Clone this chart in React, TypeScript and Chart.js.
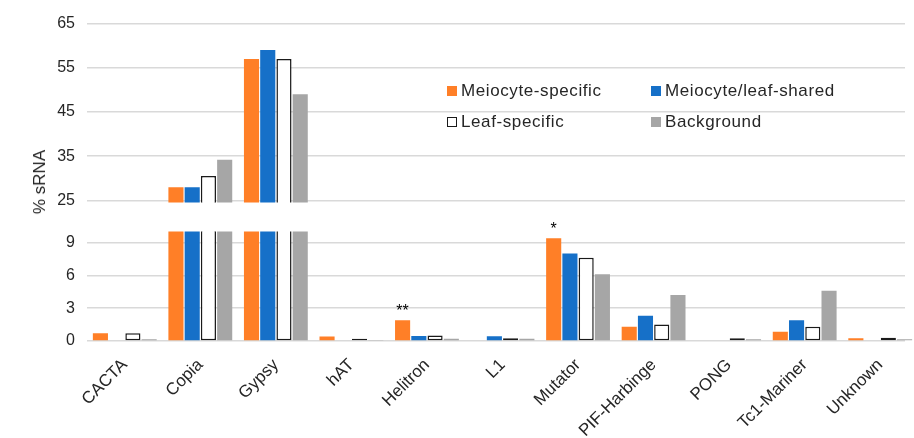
import React, { useEffect, useRef } from 'react';
import { Chart, registerables } from 'chart.js';

Chart.register(...registerables);

const categories = ['CACTA', 'Copia', 'Gypsy', 'hAT', 'Helitron', 'L1', 'Mutator', 'PIF-Harbinge', 'PONG', 'Tc1-Mariner', 'Unknown'];
const meiocyteSpecific = [0.7, 28, 57, 0.4, 1.9, 0, 9.4, 1.3, 0, 0.85, 0.25];
const meiocyteLeafShared = [0, 28, 59, 0, 0.45, 0.43, 8.0, 2.3, 0, 1.9, 0];
const leafSpecific = [0.7, 30.5, 57, 0.2, 0.5, 0.25, 7.6, 1.5, 0.25, 1.3, 0.3];
const background = [0.15, 34.2, 49, 0.1, 0.2, 0.2, 6.1, 4.2, 0.15, 4.6, 0.15];
const significance = ['', '', '', '', '**', '', '*', '', '', '', ''];
const topTicks = [25, 35, 45, 55, 65];
const bottomTicks = [0, 3, 6, 9];
const seriesLabels = ['Meiocyte-specific', 'Meiocyte/leaf-shared', 'Leaf-specific', 'Background'];
const yTitle = '% sRNA';

const FONT = '"Liberation Sans", Arial, sans-serif';
const TEXT = '#262626';
const GRID = '#D9D9D9';
const CANVAS_W = 940;
const GRID_END = 905;

const seriesStyle = [
  { bg: '#FF7F27', border: '#FF7F27', bw: 0 },
  { bg: '#1670C8', border: '#1670C8', bw: 0 },
  { bg: '#FFFFFF', border: '#1A1A1A', bw: 1.5 },
  { bg: '#A6A6A6', border: '#A6A6A6', bw: 0 },
];
const seriesData = [meiocyteSpecific, meiocyteLeafShared, leafSpecific, background];

function makeDatasets() {
  return seriesData.map((d, i) => ({
    label: seriesLabels[i],
    data: d,
    backgroundColor: seriesStyle[i].bg,
    borderColor: seriesStyle[i].border,
    borderWidth: seriesStyle[i].bw,
    borderSkipped: false as const,
    categoryPercentage: 0.86,
    barPercentage: 0.93,
    clip: { left: 0, right: 0, top: 0, bottom: 2 },
  }));
}

// gridlines stop short of the plot's right edge in the original
const gridEndPlugin = {
  id: 'gridEnd',
  beforeDatasetsDraw(chart: any) {
    const { ctx, chartArea } = chart;
    ctx.save();
    ctx.fillStyle = '#FFFFFF';
    ctx.fillRect(GRID_END, chartArea.top - 3, chart.width - GRID_END, chartArea.bottom - chartArea.top + 6);
    ctx.restore();
  },
};

const starPlugin = {
  id: 'stars',
  afterDatasetsDraw(chart: any) {
    const meta = chart.getDatasetMeta(0);
    const ctx = chart.ctx;
    ctx.save();
    ctx.font = `16px ${FONT}`;
    ctx.fillStyle = '#000';
    ctx.textAlign = 'center';
    ctx.textBaseline = 'alphabetic';
    significance.forEach((s, i) => {
      if (!s) return;
      const el = meta.data[i];
      ctx.fillText(s, el.x, el.y - 4);
    });
    ctx.restore();
  },
};

export default function App() {
  const topRef = useRef<HTMLCanvasElement>(null);
  const botRef = useRef<HTMLCanvasElement>(null);

  useEffect(() => {
    const yCommon = (ticks: number[]) => ({
      afterBuildTicks: (s: any) => {
        s.ticks = ticks.map((value) => ({ value }));
      },
      afterFit: (s: any) => {
        s.width = 87;
      },
      grid: { color: GRID, lineWidth: 1.5, drawTicks: false },
      border: { display: false },
      ticks: { padding: 12, color: TEXT, font: { family: FONT, size: 16 } },
    });

    const top = new Chart(topRef.current!, {
      type: 'bar',
      data: { labels: categories, datasets: makeDatasets() as any },
      options: {
        responsive: false,
        maintainAspectRatio: false,
        animation: false,
        layout: { padding: { top: 23.5, right: CANVAS_W - 918, bottom: 10, left: 0 } },
        plugins: { legend: { display: false }, tooltip: { enabled: false } },
        scales: {
          x: { display: false },
          y: { min: 25, max: 65, ...yCommon(topTicks) } as any,
        },
      },
      plugins: [gridEndPlugin],
    });

    const bot = new Chart(botRef.current!, {
      type: 'bar',
      data: { labels: categories, datasets: makeDatasets() as any },
      options: {
        responsive: false,
        maintainAspectRatio: false,
        animation: false,
        layout: { padding: { top: 19.5, right: CANVAS_W - 918, bottom: 0, left: 0 } },
        plugins: { legend: { display: false }, tooltip: { enabled: false } },
        scales: {
          x: {
            grid: { display: false, drawTicks: false },
            border: { display: false },
            ticks: {
              minRotation: 45,
              maxRotation: 45,
              autoSkip: false,
              padding: 14,
              color: TEXT,
              font: { family: FONT, size: 17 },
            },
            afterFit: (s: any) => {
              s.height = 97;
            },
          } as any,
          y: { min: 0, max: 10, ...yCommon(bottomTicks) } as any,
        },
      },
      plugins: [gridEndPlugin, starPlugin],
    });

    return () => {
      top.destroy();
      bot.destroy();
    };
  }, []);

  const legendPos = [
    { left: 447, top: 91 },
    { left: 651, top: 91 },
    { left: 447, top: 122 },
    { left: 651, top: 122 },
  ];

  return (
    <div style={{ position: 'fixed', left: 0, top: 0, width: 914, height: 438, background: '#fff', overflow: 'hidden', fontFamily: FONT }}>
      <canvas ref={topRef} width={CANVAS_W} height={222} style={{ position: 'absolute', left: 0, top: 0 }} />
      <canvas ref={botRef} width={CANVAS_W} height={228} style={{ position: 'absolute', left: 0, top: 210 }} />
      <div
        style={{
          position: 'absolute',
          left: 40,
          top: 181.5,
          transform: 'translate(-50%, -50%) rotate(-90deg)',
          fontSize: 17,
          color: TEXT,
          whiteSpace: 'nowrap',
        }}
      >
        {yTitle}
      </div>
      {seriesLabels.map((lab, i) => (
        <div
          key={lab}
          style={{
            position: 'absolute',
            left: legendPos[i].left,
            top: legendPos[i].top,
            transform: 'translateY(-50%)',
            display: 'flex',
            alignItems: 'center',
            fontSize: 17,
            letterSpacing: '0.6px',
            color: TEXT,
            whiteSpace: 'nowrap',
          }}
        >
          <span
            style={{
              display: 'inline-block',
              width: i === 2 ? 8 : 10,
              height: i === 2 ? 8 : 10,
              background: seriesStyle[i].bg,
              border: i === 2 ? '1px solid #1A1A1A' : 'none',
              marginRight: 4,
            }}
          />
          <span>{lab}</span>
        </div>
      ))}
    </div>
  );
}
